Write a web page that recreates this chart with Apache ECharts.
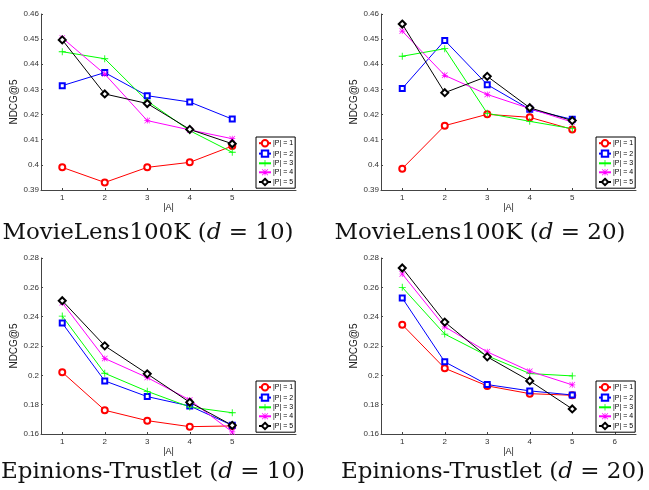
<!DOCTYPE html>
<html>
<head>
<meta charset="utf-8">
<style>
html, body { margin: 0; padding: 0; background: #ffffff; }
#main { width: 649px; height: 490px; }
</style>
<script src="https://cdn.jsdelivr.net/npm/echarts@6/dist/echarts.min.js"></script>
</head>
<body>
<div id="main"></div>
<script>
// |A| values on the x axis
const aValues = [1, 2, 3, 4, 5];
const pNames = ['|P| = 1', '|P| = 2', '|P| = 3', '|P| = 4', '|P| = 5'];

// MovieLens100K (d = 10)
const ml10P1 = [0.399, 0.393, 0.399, 0.401, 0.4075];
const ml10P2 = [0.4315, 0.4367, 0.4275, 0.425, 0.4182];
const ml10P3 = [0.445, 0.4422, 0.4254, 0.4136, 0.405];
const ml10P4 = [0.4505, 0.4361, 0.4176, 0.4139, 0.4104];
const ml10P5 = [0.4497, 0.4282, 0.4244, 0.4141, 0.4084];

// MovieLens100K (d = 20)
const ml20P1 = [0.3985, 0.4156, 0.4201, 0.4189, 0.4141];
const ml20P2 = [0.4304, 0.4495, 0.4319, 0.4221, 0.4181];
const ml20P3 = [0.4432, 0.4462, 0.4205, 0.4173, 0.4144];
const ml20P4 = [0.4532, 0.4356, 0.428, 0.4224, 0.417];
const ml20P5 = [0.456, 0.4287, 0.4352, 0.4227, 0.4176];

// Epinions-Trustlet (d = 10)
const ep10P1 = [0.2021, 0.1762, 0.1691, 0.165, 0.1655];
const ep10P2 = [0.2356, 0.1962, 0.1855, 0.1791, 0.1659];
const ep10P3 = [0.2404, 0.2014, 0.1891, 0.1784, 0.1745];
const ep10P4 = [0.2495, 0.2115, 0.1985, 0.1832, 0.1614];
const ep10P5 = [0.2509, 0.2201, 0.201, 0.1816, 0.1659];

// Epinions-Trustlet (d = 20)
const ep20P1 = [0.2345, 0.2048, 0.1928, 0.1875, 0.1864];
const ep20P2 = [0.2527, 0.2092, 0.1937, 0.1894, 0.1866];
const ep20P3 = [0.26, 0.2281, 0.2133, 0.2012, 0.1996];
const ep20P4 = [0.2691, 0.2331, 0.216, 0.2028, 0.1935];
const ep20P5 = [0.2732, 0.2363, 0.2126, 0.1962, 0.1771];

const panels = [
  { lines: [ml10P1, ml10P2, ml10P3, ml10P4, ml10P5], yMin: 0.39, yMax: 0.46, yStep: 0.01, xTicks: [1, 2, 3, 4, 5] },
  { lines: [ml20P1, ml20P2, ml20P3, ml20P4, ml20P5], yMin: 0.39, yMax: 0.46, yStep: 0.01, xTicks: [1, 2, 3, 4, 5] },
  { lines: [ep10P1, ep10P2, ep10P3, ep10P4, ep10P5], yMin: 0.16, yMax: 0.28, yStep: 0.02, xTicks: [1, 2, 3, 4, 5] },
  { lines: [ep20P1, ep20P2, ep20P3, ep20P4, ep20P5], yMin: 0.16, yMax: 0.28, yStep: 0.02, xTicks: [1, 2, 3, 4, 5, 6] }
];

const captions = [
  { pre: 'MovieLens100K (', post: ' = 10)' },
  { pre: 'MovieLens100K (', post: ' = 20)' },
  { pre: 'Epinions-Trustlet (', post: ' = 10)' },
  { pre: 'Epinions-Trustlet (', post: ' = 20)' }
];

const plusPath = 'path://M4.4,0H5.6V4.4H10V5.6H5.6V10H4.4V5.6H0V4.4H4.4Z';
const starPath = 'path://M4.4,0H5.6V10H4.4Z M0,4.4H10V5.6H0Z M0.8,0L10,9.2L9.2,10L0,0.8Z M9.2,0L10,0.8L0.8,10L0,9.2Z';

const lineColors = ['#ff0000', '#0000ff', '#00ff00', '#ff00ff', '#000000'];
const lineSymbols = ['emptyCircle', 'emptyRect', plusPath, starPath, 'emptyDiamond'];
const symbolSizes = [6, 5, 7, 6, 7];

const gridPos = [
  { left: 41, top: 14 },
  { left: 381, top: 14 },
  { left: 41, top: 258 },
  { left: 381, top: 258 }
];
const captionPos = [[148, 233], [480, 233], [153, 472], [493, 472]];

const axisColor = '#444444';
const labelFont = 'Liberation Sans, Arial, sans-serif';

let grids = [], xAxes = [], yAxes = [], legends = [], series = [], graphics = [];

panels.forEach(function (p, i) {
  grids.push({ left: gridPos[i].left, top: gridPos[i].top, width: 255, height: 176 });
  xAxes.push({
    type: 'value', gridIndex: i, min: 0.5, max: 6.5,
    name: '|A|', nameLocation: 'middle', nameGap: 12,
    nameTextStyle: { fontSize: 9, color: '#222', fontFamily: labelFont },
    splitLine: { show: false },
    axisLine: { lineStyle: { color: axisColor, width: 1 } },
    axisTick: { inside: true, length: 2, customValues: p.xTicks, lineStyle: { color: axisColor } },
    axisLabel: { customValues: p.xTicks, fontSize: 8, color: '#333', margin: 4, fontFamily: labelFont }
  });
  yAxes.push({
    type: 'value', gridIndex: i, min: p.yMin, max: p.yMax, interval: p.yStep,
    name: 'NDCG@5', nameLocation: 'middle', nameGap: 18,
    nameTextStyle: { fontSize: 10, color: '#222', fontFamily: labelFont },
    splitLine: { show: false },
    axisLine: { show: true, lineStyle: { color: axisColor, width: 1 } },
    axisTick: { show: true, inside: true, length: 2, lineStyle: { color: axisColor } },
    axisLabel: { fontSize: 8, color: '#333', margin: 2, fontFamily: labelFont }
  });
  legends.push({
    data: pNames,
    orient: 'vertical',
    left: gridPos[i].left + 215,
    top: gridPos[i].top + 123,
    itemWidth: 12, itemHeight: 8, itemGap: 2,
    padding: [2, 2, 2, 2],
    borderColor: '#000', borderWidth: 1, backgroundColor: '#fff',
    textStyle: { fontSize: 7, color: '#000', fontFamily: labelFont, padding: [0, 0, 0, -3] },
    selectedMode: false
  });
  p.lines.forEach(function (vals, k) {
    series.push({
      name: pNames[k],
      type: 'line',
      xAxisIndex: i, yAxisIndex: i,
      data: aValues.map(function (a, j) { return [a, vals[j]]; }),
      symbol: lineSymbols[k],
      symbolSize: symbolSizes[k],
      showAllSymbol: true,
      lineStyle: { color: lineColors[k], width: 1 },
      itemStyle: { color: lineColors[k], borderColor: lineColors[k], borderWidth: (k === 2 || k === 3) ? 0 : 0.8 },
      emphasis: { disabled: true },
      animation: false
    });
  });
  graphics.push({
    type: 'text',
    x: captionPos[i][0], y: captionPos[i][1],
    style: {
      text: captions[i].pre + '{i|d}' + captions[i].post,
      align: 'center', verticalAlign: 'middle',
      fill: '#111',
      font: '23px "DejaVu Serif", serif',
      rich: { i: { fontStyle: 'italic', fontSize: 23, fontFamily: 'DejaVu Serif' } }
    }
  });
});

const chart = echarts.init(document.getElementById('main'));
chart.setOption({
  backgroundColor: '#ffffff',
  animation: false,
  grid: grids,
  xAxis: xAxes,
  yAxis: yAxes,
  legend: legends,
  series: series,
  graphic: graphics
});
</script>
</body>
</html>
